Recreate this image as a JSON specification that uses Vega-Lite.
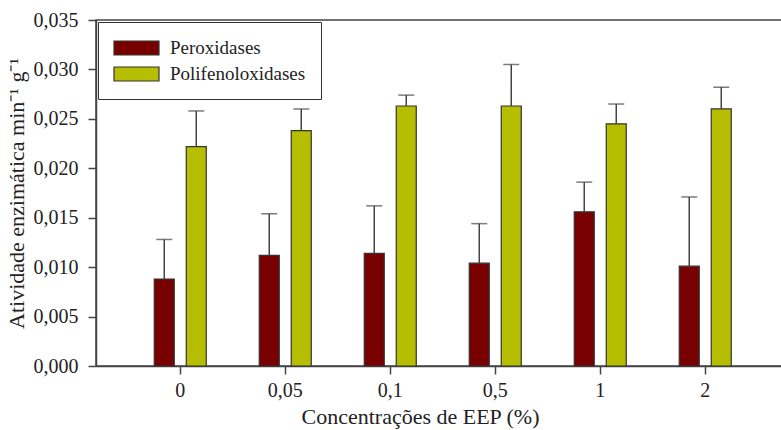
{
  "$schema": "https://vega.github.io/schema/vega-lite/v6.json",
  "autosize": {"type": "none"},
  "width": 686,
  "height": 346,
  "padding": {"left": 96, "top": 20, "right": 0, "bottom": 64},
  "background": "white",
  "data": {"values": [
    {"conc": "0", "enzima": "Peroxidases", "valor": 0.0088, "superior": 0.0128},
    {"conc": "0", "enzima": "Polifenoloxidases", "valor": 0.0222, "superior": 0.0258},
    {"conc": "0,05", "enzima": "Peroxidases", "valor": 0.0112, "superior": 0.0154},
    {"conc": "0,05", "enzima": "Polifenoloxidases", "valor": 0.0238, "superior": 0.0260},
    {"conc": "0,1", "enzima": "Peroxidases", "valor": 0.0114, "superior": 0.0162},
    {"conc": "0,1", "enzima": "Polifenoloxidases", "valor": 0.0263, "superior": 0.0274},
    {"conc": "0,5", "enzima": "Peroxidases", "valor": 0.0104, "superior": 0.0144},
    {"conc": "0,5", "enzima": "Polifenoloxidases", "valor": 0.0263, "superior": 0.0305},
    {"conc": "1", "enzima": "Peroxidases", "valor": 0.0156, "superior": 0.0186},
    {"conc": "1", "enzima": "Polifenoloxidases", "valor": 0.0245, "superior": 0.0265},
    {"conc": "2", "enzima": "Peroxidases", "valor": 0.0101, "superior": 0.0171},
    {"conc": "2", "enzima": "Polifenoloxidases", "valor": 0.0260, "superior": 0.0282}
  ]},
  "encoding": {
    "x": {
      "field": "conc", "type": "nominal",
      "sort": ["0", "0,05", "0,1", "0,5", "1", "2"],
      "scale": {"paddingInner": 0, "paddingOuter": 0.2667, "align": 0.567},
      "axis": {
        "title": "Concentrações de EEP (%)",
        "labelAngle": 0,
        "labelFont": "Liberation Serif, Times New Roman, serif", "labelFontSize": 20, "labelColor": "#222",
        "labelPadding": 6,
        "titleFont": "Liberation Serif, Times New Roman, serif", "titleFontSize": 22, "titleFontWeight": "normal", "titleColor": "#222",
        "titlePadding": 6,
        "titleX": 324, "titleAlign": "center", "titleAnchor": null,
        "tickSize": 8, "tickColor": "#444", "tickWidth": 1.5,
        "domainColor": "#444", "domainWidth": 1.5, "grid": false
      }
    },
    "xOffset": {
      "field": "enzima", "type": "nominal",
      "scale": {"paddingInner": 0.375, "paddingOuter": 0.828}
    }
  },
  "layer": [
    {
      "mark": {"type": "bar", "stroke": "#333", "strokeWidth": 1.2},
      "encoding": {
        "y": {
          "field": "valor", "type": "quantitative",
          "scale": {"domain": [0, 0.035], "nice": false},
          "axis": {
            "title": "Atividade enzimática min⁻¹ g⁻¹",
            "values": [0, 0.005, 0.01, 0.015, 0.02, 0.025, 0.03, 0.035],
            "labelExpr": "replace(format(datum.value, '.3f'), '.', ',')",
            "labelFont": "Liberation Serif, Times New Roman, serif", "labelFontSize": 20, "labelColor": "#222",
            "labelPadding": 10,
            "titleFont": "Liberation Serif, Times New Roman, serif", "titleFontSize": 22, "titleFontWeight": "normal", "titleColor": "#222",
            "titlePadding": 5,
            "tickSize": 8, "tickColor": "#444", "tickWidth": 1.5,
            "domainColor": "#444", "domainWidth": 1.5, "grid": false
          }
        },
        "color": {
          "field": "enzima", "type": "nominal",
          "scale": {"domain": ["Peroxidases", "Polifenoloxidases"], "range": ["#780000", "#b5be00"]},
          "legend": {
            "title": null,
            "orient": "none", "legendX": 2, "legendY": 2,
            "padding": 15,
            "strokeColor": "#333", "fillColor": "white",
            "symbolType": "M-1,-0.7H3.5V0.7H-1Z",
            "symbolSize": 400,
            "symbolStrokeColor": "#333", "symbolStrokeWidth": 1.2, "symbolOpacity": 1,
            "labelFont": "Liberation Serif, Times New Roman, serif", "labelFontSize": 19, "labelColor": "#222",
            "labelOffset": 35, "rowPadding": 5
          }
        }
      }
    },
    {
      "mark": {"type": "rule", "color": "#444", "strokeWidth": 1.5},
      "encoding": {
        "y": {"field": "valor", "type": "quantitative"},
        "y2": {"field": "superior"}
      }
    },
    {
      "mark": {"type": "tick", "color": "#444", "thickness": 1.5, "size": 16},
      "encoding": {
        "y": {"field": "superior", "type": "quantitative"}
      }
    }
  ],
  "config": {
    "view": {"stroke": "#444", "strokeWidth": 1.5},
    "font": "Liberation Serif, Times New Roman, serif"
  }
}
